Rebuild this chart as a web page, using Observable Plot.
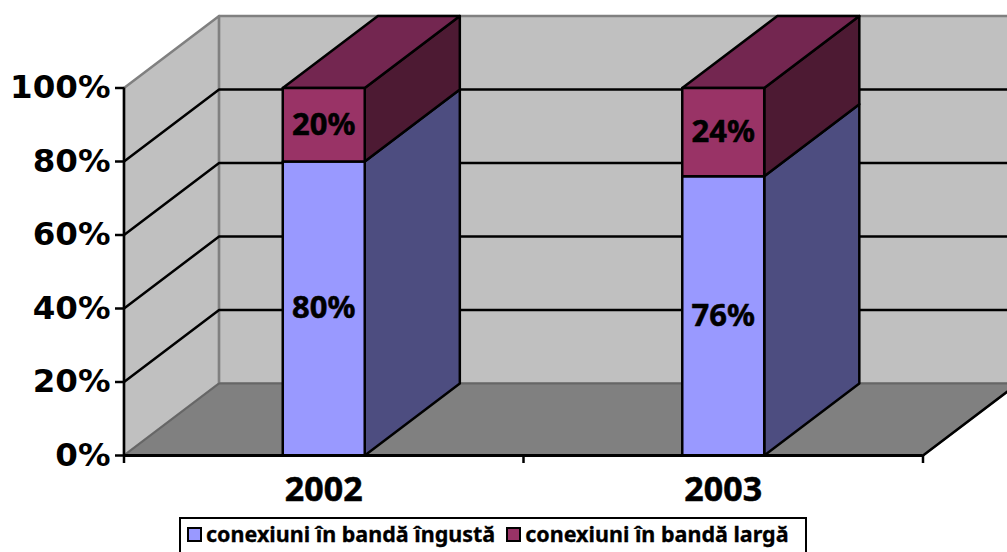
<!DOCTYPE html>
<html>
<head>
<meta charset="utf-8">
<style>
  html, body { margin: 0; padding: 0; background: #fff; overflow: hidden; width: 1007px; height: 552px; }
  #chart svg { display: block; }
  #legend {
    box-sizing: border-box; margin: 1px 0 0 179px; width: 628px; height: 40px;
    border: 2.5px solid #000; background: #fff; padding: 1px 0 0 6px;
    display: flex; align-items: flex-start; gap: 11px; white-space: nowrap;
    font: bold 21.5px "Noto Sans", sans-serif; color: #000; line-height: 28px;
    -webkit-text-stroke: 0.3px #000;
  }
  .item { display: flex; align-items: center; gap: 4px; }
  .sw { box-sizing: border-box; width: 15px; height: 15px; border: 2.5px solid #000; display: inline-block; }
</style>
</head>
<body>
<div id="chart"></div>
<div id="legend"></div>
<script src="https://cdn.jsdelivr.net/npm/d3@7"></script>
<script src="https://cdn.jsdelivr.net/npm/@observablehq/plot@0.6"></script>
<script>
const categories = ["2002", "2003"];
const narrowband = [80, 76];
const broadband = [20, 24];
const seriesNames = ["conexiuni în bandă îngustă", "conexiuni în bandă largă"];
const yTicks = [0, 20, 40, 60, 80, 100];
const gridValues = [20, 40, 60, 80];

const colors = {
  wall: "#c0c0c0", floor: "#808080", edge: "#808080", floorEdge: "#666666",
  narrowFront: "#9999ff", narrowSide: "#4d4d80",
  broadFront: "#993366", broadSide: "#4d1a33", broadTop: "#732650"
};

// oblique projection depth, in data units
const DX = 0.238, DY = 19.6;
const HALF = 0.1026;
const xMax = categories.length;
const LW = 2.5;

const P = (x, y) => ({x, y});
const face = (pts, fill, stroke, strokeWidth = LW) =>
  Plot.line(pts, {x: "x", y: "y", fill, stroke, strokeWidth, curve: "linear-closed", strokeLinejoin: "round"});
const seg = (pts, stroke, strokeWidth = LW) =>
  Plot.line(pts, {x: "x", y: "y", stroke, strokeWidth});

const marks = [];
// walls and floor
marks.push(face([P(0, 0), P(0, 100), P(DX, 100 + DY), P(DX, DY)], colors.wall, colors.edge));
marks.push(face([P(DX, DY), P(DX, 100 + DY), P(xMax + DX, 100 + DY), P(xMax + DX, DY)], colors.wall, colors.edge));
marks.push(face([P(0, 0), P(xMax, 0), P(xMax + DX, DY), P(DX, DY)], colors.floor, colors.floorEdge, 2));
marks.push(seg([P(xMax, 0), P(xMax + DX, DY)], "#000"));

// gridlines
for (const v of gridValues) {
  marks.push(seg([P(0, v), P(DX, v + DY), P(xMax + DX, v + DY)], "#000"));
}

// bars
categories.forEach((c, i) => {
  const l = i + 0.5 - HALF, r = i + 0.5 + HALF, a = narrowband[i], t = a + broadband[i];
  marks.push(face([P(r, 0), P(r + DX, DY), P(r + DX, a + DY), P(r, a)], colors.narrowSide, "#000"));
  marks.push(face([P(r, a), P(r + DX, a + DY), P(r + DX, t + DY), P(r, t)], colors.broadSide, "#000"));
  marks.push(face([P(l, t), P(l + DX, t + DY), P(r + DX, t + DY), P(r, t)], colors.broadTop, "#000"));
  marks.push(face([P(l, 0), P(r, 0), P(r, a), P(l, a)], colors.narrowFront, "#000"));
  marks.push(face([P(l, a), P(r, a), P(r, t), P(l, t)], colors.broadFront, "#000"));
});

// value labels
const labels = categories.flatMap((c, i) => [
  {x: i + 0.5, y: narrowband[i] / 2, t: narrowband[i] + "%"},
  {x: i + 0.5, y: narrowband[i] + broadband[i] / 2, t: broadband[i] + "%"}
]);
marks.push(Plot.text(labels, {x: "x", y: "y", text: "t", fontFamily: "'Noto Sans', sans-serif", fontSize: 31, fontWeight: "bold", fill: "#000", stroke: "#000", strokeWidth: 0.5}));

// axes
marks.push(Plot.ruleX([0], {y1: 0, y2: 100, stroke: "#000", strokeWidth: LW}));
marks.push(Plot.ruleY([0], {x1: 0, x2: xMax, stroke: "#000", strokeWidth: 3}));
marks.push(Plot.axisY({ticks: yTicks, tickFormat: d => d + "%", tickSize: 9, tickPadding: 5, fontSize: 32.5, strokeWidth: LW, stroke: "#000", label: null}));
marks.push(Plot.axisX({ticks: d3.range(xMax + 1), tickFormat: () => "", tickSize: 8, strokeWidth: LW, stroke: "#000", label: null}));
marks.push(Plot.text(categories, {x: (c, i) => i + 0.5, y: 0, dy: 35, text: c => c, fontFamily: "'Noto Sans', sans-serif", fontSize: 34, fontWeight: "bold", fill: "#000", stroke: "#000", strokeWidth: 0.5}));

const plot = Plot.plot({
  width: 1007, height: 516,
  marginLeft: 124, marginRight: 84, marginTop: 87.5, marginBottom: 61,
  x: {type: "linear", domain: [0, xMax], range: [123.5, 922.5]},
  y: {type: "linear", domain: [0, 100], range: [455, 87.5]},
  style: {fontFamily: "'DejaVu Sans', sans-serif", fontWeight: "bold", background: "#fff", color: "#000"},
  marks
});
document.getElementById("chart").append(plot);

const legend = document.getElementById("legend");
[colors.narrowFront, colors.broadFront].forEach((col, i) => {
  const item = document.createElement("span"); item.className = "item";
  const sw = document.createElement("span"); sw.className = "sw"; sw.style.background = col;
  const tx = document.createElement("span"); tx.textContent = seriesNames[i];
  item.append(sw, tx); legend.append(item);
});
</script>
</body>
</html>
